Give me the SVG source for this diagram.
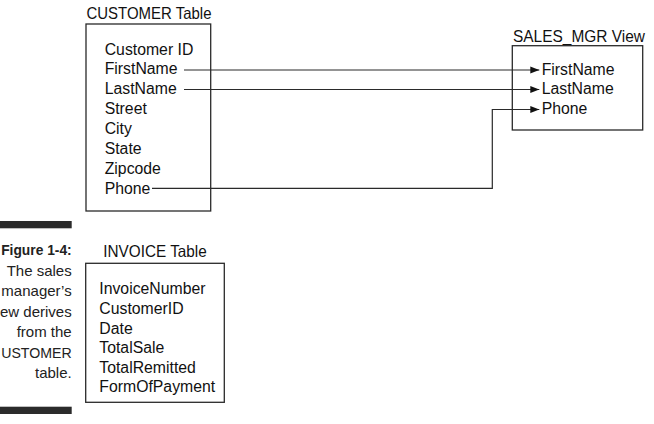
<svg xmlns="http://www.w3.org/2000/svg" width="654" height="424" viewBox="0 0 654 424">
<style>
.box{fill:none;stroke:#2a2a2a;stroke-width:1.3}
.t{font-family:"Liberation Sans",Arial,sans-serif;fill:#111111}
.title{font-size:16.5px}
.fld{font-size:15.8px}
.cap{font-size:15px;fill:#222222;text-anchor:end}
.capb{font-weight:bold}
.ln{fill:none;stroke:#2a2a2a;stroke-width:1.2}
.bar{fill:#2b2b2b}
</style>
<defs>
<marker id="ah" markerUnits="userSpaceOnUse" markerWidth="10" markerHeight="8" refX="9" refY="4" orient="auto">
<path d="M0,0.5 L9,4 L0,7.5 Z" fill="#111111"/>
</marker>
</defs>
<rect width="654" height="424" fill="#ffffff"/>

<g id="caption">
<rect class="bar" x="0" y="221" width="71.7" height="7.3"/>
<rect class="bar" x="0" y="406.7" width="71.7" height="7.3"/>
<text class="t cap capb" x="71.7" y="255" textLength="70.5" lengthAdjust="spacingAndGlyphs">Figure 1-4:</text>
<text class="t cap" x="71.7" y="275.5">The sales</text>
<text class="t cap" x="71.7" y="296">manager’s</text>
<text class="t cap" x="71.7" y="316.5">ew derives</text>
<text class="t cap" x="71.7" y="337">from the</text>
<text class="t cap" x="71.7" y="357.5" textLength="70.5" lengthAdjust="spacingAndGlyphs">USTOMER</text>
<text class="t cap" x="71.7" y="378">table.</text>
</g>

<g id="customer">
<text class="t title" x="86.5" y="19" textLength="125" lengthAdjust="spacingAndGlyphs">CUSTOMER Table</text>
<rect class="box" x="86" y="24" width="124.7" height="187"/>
<text class="t fld" x="104.7" y="54.5">Customer ID</text>
<text class="t fld" x="104.7" y="74.4">FirstName</text>
<text class="t fld" x="104.7" y="94.2">LastName</text>
<text class="t fld" x="104.7" y="114">Street</text>
<text class="t fld" x="104.7" y="133.9">City</text>
<text class="t fld" x="104.7" y="153.8">State</text>
<text class="t fld" x="104.7" y="173.6">Zipcode</text>
<text class="t fld" x="104.7" y="193.5">Phone</text>
</g>

<g id="sales_mgr">
<text class="t title" x="513" y="41.7" textLength="132" lengthAdjust="spacingAndGlyphs">SALES_MGR View</text>
<rect class="box" x="512.3" y="45.7" width="130.4" height="84.3"/>
<text class="t fld" x="541.7" y="74.5">FirstName</text>
<text class="t fld" x="541.7" y="94.2">LastName</text>
<text class="t fld" x="541.7" y="114">Phone</text>
</g>

<g id="invoice">
<text class="t title" x="103.3" y="257.3" textLength="103.4" lengthAdjust="spacingAndGlyphs">INVOICE Table</text>
<rect class="box" x="85.7" y="263.3" width="138.6" height="139"/>
<text class="t fld" x="99.3" y="294.3">InvoiceNumber</text>
<text class="t fld" x="99.3" y="314">CustomerID</text>
<text class="t fld" x="99.3" y="333.7">Date</text>
<text class="t fld" x="99.3" y="353.3">TotalSale</text>
<text class="t fld" x="99.3" y="372.8">TotalRemitted</text>
<text class="t fld" x="99.3" y="392.3">FormOfPayment</text>
</g>

<g id="connectors">
<path class="ln" d="M184,70 H539.3" marker-end="url(#ah)"/>
<path class="ln" d="M184,89.5 H539.3" marker-end="url(#ah)"/>
<path class="ln" d="M152,188.3 H492.3 V109.5 H539.3" marker-end="url(#ah)"/>
</g>
</svg>
